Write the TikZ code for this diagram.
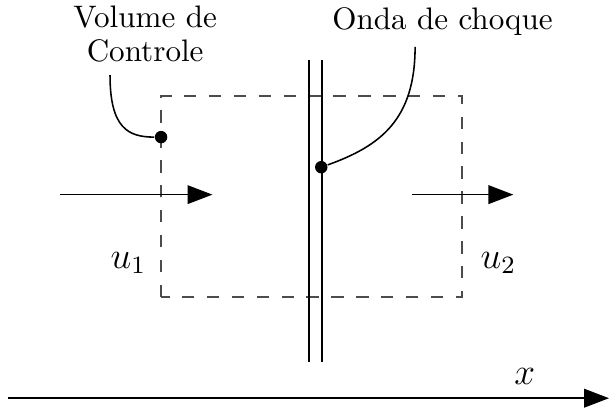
\documentclass[tikz,border=0pt]{standalone}
\usepackage{tikz}
\usetikzlibrary{arrows.meta,positioning}

\begin{document}
\begin{tikzpicture}[
    cv/.style={draw=black!70, dash pattern=on 4pt off 4pt, line width=0.5pt},
    flow/.style={-{Triangle[length=8pt,width=6pt]}, line width=0.5pt},
    dot/.style={circle, fill=black, inner sep=0pt, minimum size=4pt},
    lbl/.style={align=center, inner sep=0pt}
]
    \useasboundingbox (0,0) rectangle (6.881,4.599);
    % volume de controle e onda de choque
    \draw[cv] (1.82,1.243) rectangle (5.22,3.514);
    \draw[line width=0.5pt] (3.49,0.508) -- (3.49,3.92);
    \draw[line width=0.5pt] (3.64,0.508) -- (3.64,3.92);

    \node[dot] (pcv) at (1.82,3.05) {};
    \node[dot] (pshock) at (3.63,2.71) {};

    \node[lbl] (vol) at (1.64,4.21) {Volume de\\[-1pt]Controle};
    \node[lbl] (onda) at (5.0,4.35) {Onda de choque};
    \coordinate (cvstart) at (1.243,3.75);
    \coordinate (shstart) at (4.69,4.07);

    \draw[line width=0.5pt] (cvstart) .. controls (1.243,3.15) and (1.45,3.05) .. (pcv);
    \draw[line width=0.5pt] (shstart) .. controls (4.69,3.25) and (4.3,2.95) .. (pshock);

    % velocidades
    \coordinate (in1) at (0.68,2.40);
    \coordinate (in2) at (2.40,2.40);
    \coordinate (out1) at (4.66,2.40);
    \coordinate (out2) at (5.80,2.40);
    \draw[flow] (in1) -- (in2);
    \draw[flow] (out1) -- (out2);
    \node (u1) at (1.45,1.63) {\large $u_1$};
    \node (u2) at (5.63,1.63) {\large $u_2$};

    % eixo x
    \coordinate (xa) at (0.09,0.10);
    \coordinate (xb) at (6.881,0.10);
    \draw[flow] (xa) -- (xb);
    \node (xlab) at (5.93,0.35) {\large $x$};
\end{tikzpicture}
\end{document}
